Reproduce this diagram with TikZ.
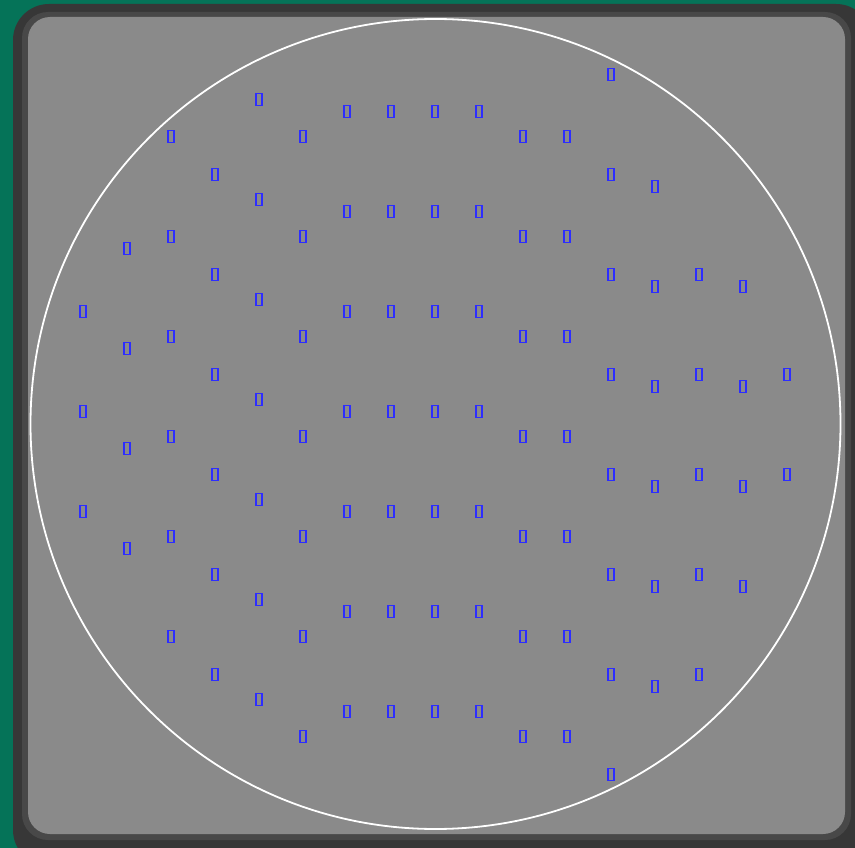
\documentclass[tikz,border=0pt]{standalone}
\definecolor{bggreen}{RGB}{5,115,88}
\definecolor{framegray}{RGB}{55,55,55}
\definecolor{framelight}{RGB}{72,72,72}
\definecolor{panelgray}{RGB}{138,138,138}
\definecolor{dieblue}{RGB}{45,45,255}
\tikzset{
  die/.style={draw=dieblue, line width=1.9pt, rectangle, minimum width=6.5pt, minimum height=12pt, inner sep=0pt},
  wafer/.style={draw=white, line width=1.8pt}
}
\begin{document}
\begin{tikzpicture}[x=1pt,y=-1pt]
\useasboundingbox (0,0) rectangle (855,848);
\clip (0,0) rectangle (855,848);
\fill[bggreen] (0,0) rectangle (855,848);
\fill[framegray, rounded corners=36pt] (13,4) rectangle (872,866);
\fill[framelight, rounded corners=26pt] (22,12) rectangle (851,840);
\fill[panelgray, rounded corners=22pt] (28,17) rectangle (845,834);
\draw[wafer] (435.5,424) circle (405pt);
% columns: x / list of y
\foreach \x/\ys in {
  83/{311,411,511},
  127/{248,348,448,548},
  171/{136,236,336,436,536,636},
  215/{174,274,374,474,574,674},
  259/{99,199,299,399,499,599,699},
  303/{136,236,336,436,536,636,736},
  347/{111,211,311,411,511,611,711},
  391/{111,211,311,411,511,611,711},
  435/{111,211,311,411,511,611,711},
  479/{111,211,311,411,511,611,711},
  523/{136,236,336,436,536,636,736},
  567/{136,236,336,436,536,636,736},
  611/{74,174,274,374,474,574,674,774},
  655/{186,286,386,486,586,686},
  699/{274,374,474,574,674},
  743/{286,386,486,586},
  787/{374,474}}{
  \foreach \y in \ys {
    \node[die] (d-\x-\y) at (\x,\y+0.5) {};
  }
}
\end{tikzpicture}
\end{document}
